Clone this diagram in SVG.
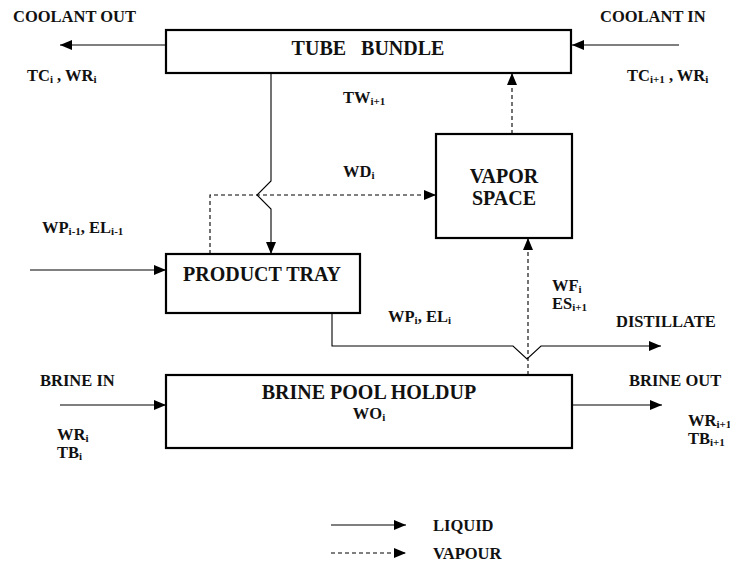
<svg xmlns="http://www.w3.org/2000/svg" width="730" height="567" viewBox="0 0 730 567">
  <style>
    .box { fill: #fff; stroke: #000; stroke-width: 2.2; }
    .liq { fill: none; stroke: #000; stroke-width: 1.1; }
    .vap { fill: none; stroke: #000; stroke-width: 1.1; stroke-dasharray: 4 3; }
    text { font-family: "Liberation Serif", "Times New Roman", serif; font-weight: bold; fill: #111; }
    .lbl { font-size: 16.5px; }
    .name { font-size: 20px; }
    .sub { font-size: 11px; }
  </style>
  <defs>
    <marker id="head" markerWidth="12" markerHeight="10" refX="12" refY="5" orient="auto" markerUnits="userSpaceOnUse">
      <path d="M0,0 L12,5 L0,10 Z" fill="#000"/>
    </marker>
  </defs>

  <rect width="730" height="567" fill="#fff"/>

  <!-- connectors -->
  <g id="connectors">
    <!-- coolant out / in -->
    <path class="liq" d="M166,45 H60" marker-end="url(#head)"/>
    <path class="liq" d="M679,45 H572" marker-end="url(#head)"/>
    <!-- condensate from tube bundle to product tray, hopping over the vapour line -->
    <path class="liq" d="M271,73 V181 L257,195 L271,209 V254" marker-end="url(#head)"/>
    <!-- vapour from product tray to vapor space -->
    <path class="vap" d="M210,254 V195 H436" marker-end="url(#head)"/>
    <!-- vapor space to tube bundle -->
    <path class="vap" d="M512,134 V73" marker-end="url(#head)"/>
    <!-- feed into product tray -->
    <path class="liq" d="M30,270 H166" marker-end="url(#head)"/>
    <!-- product tray to distillate, hopping over the flash vapour line -->
    <path class="liq" d="M332,313 V346 H513 L527,359 L541,346 H661" marker-end="url(#head)"/>
    <!-- flash vapour from brine pool to vapor space -->
    <path class="vap" d="M528,375 V238" marker-end="url(#head)"/>
    <!-- brine in / out -->
    <path class="liq" d="M60,405 H166" marker-end="url(#head)"/>
    <path class="liq" d="M572,405 H662" marker-end="url(#head)"/>
  </g>

  <!-- nodes -->
  <g id="tube-bundle">
    <rect class="box" x="166" y="30" width="405" height="43"/>
    <text class="name" x="368" y="55" text-anchor="middle" xml:space="preserve">TUBE   BUNDLE</text>
  </g>

  <g id="vapor-space">
    <rect class="box" x="436" y="134" width="136" height="104"/>
    <text class="name" x="504" y="183" text-anchor="middle">VAPOR</text>
    <text class="name" x="504" y="205" text-anchor="middle">SPACE</text>
  </g>

  <g id="product-tray">
    <rect class="box" x="166" y="254" width="194" height="59"/>
    <text class="name" x="262" y="281" text-anchor="middle">PRODUCT TRAY</text>
  </g>

  <g id="brine-pool">
    <rect class="box" x="166" y="375" width="406" height="73"/>
    <text class="name" x="369" y="399" text-anchor="middle">BRINE POOL HOLDUP</text>
    <text class="lbl" x="369" y="419" text-anchor="middle">WO<tspan class="sub" dy="2">i</tspan></text>
  </g>

  <!-- stream labels -->
  <g id="labels">
    <text class="lbl" x="13" y="22">COOLANT OUT</text>
    <text class="lbl" x="27" y="81">TC<tspan class="sub" dy="2">i</tspan><tspan dy="-2"> , WR</tspan><tspan class="sub" dy="2">i</tspan></text>
    <text class="lbl" x="600" y="22">COOLANT IN</text>
    <text class="lbl" x="627" y="81">TC<tspan class="sub" dy="2">i+1</tspan><tspan dy="-2"> , WR</tspan><tspan class="sub" dy="2">i</tspan></text>

    <text class="lbl" x="343" y="103">TW<tspan class="sub" dy="2">i+1</tspan></text>
    <text class="lbl" x="343" y="177">WD<tspan class="sub" dy="2">i</tspan></text>

    <text class="lbl" x="42" y="233">WP<tspan class="sub" dy="2">i-1</tspan><tspan dy="-2">, EL</tspan><tspan class="sub" dy="2">i-1</tspan></text>

    <text class="lbl" x="552" y="291">WF<tspan class="sub" dy="2">i</tspan></text>
    <text class="lbl" x="552" y="309">ES<tspan class="sub" dy="2">i+1</tspan></text>
    <text class="lbl" x="388" y="322">WP<tspan class="sub" dy="2">i</tspan><tspan dy="-2">, EL</tspan><tspan class="sub" dy="2">i</tspan></text>
    <text class="lbl" x="616" y="327">DISTILLATE</text>

    <text class="lbl" x="40" y="386">BRINE IN</text>
    <text class="lbl" x="57" y="440">WR<tspan class="sub" dy="2">i</tspan></text>
    <text class="lbl" x="57" y="458">TB<tspan class="sub" dy="2">i</tspan></text>

    <text class="lbl" x="629" y="386">BRINE OUT</text>
    <text class="lbl" x="688" y="426">WR<tspan class="sub" dy="2">i+1</tspan></text>
    <text class="lbl" x="688" y="444">TB<tspan class="sub" dy="2">i+1</tspan></text>
  </g>

  <!-- legend -->
  <g id="legend">
    <path class="liq" d="M331,525 H406" marker-end="url(#head)"/>
    <text class="lbl" x="433" y="531">LIQUID</text>
    <path class="vap" d="M331,553 H406" marker-end="url(#head)"/>
    <text class="lbl" x="433" y="559">VAPOUR</text>
  </g>
</svg>
